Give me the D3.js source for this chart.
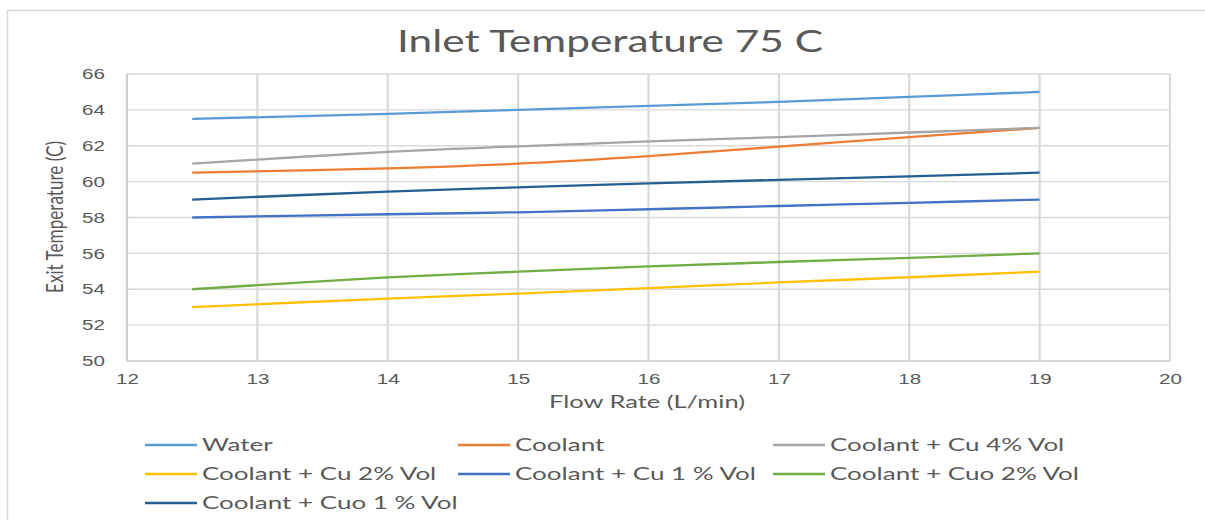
<!DOCTYPE html>
<meta charset="utf-8">
<style type="text/css">
body {
  margin: 0;
  background: #fff;
  font-family: Lato, "Open Sans", sans-serif;
}
.tick text {
  fill: #595959;
  font-size: 14.5px;
}
.grid line {
  stroke: #d9d9d9;
}
.legend text {
  fill: #595959;
  font-size: 17px;
}
</style>
<body>
</body>

<script src="https://cdn.jsdelivr.net/npm/d3@7"></script>
<script>
// flow rates (L/min) where the exit temperatures were read
var flowRates = [12.5, 14, 15, 16, 17, 18, 19];

var seriesNames = [
  "Water",
  "Coolant",
  "Coolant + Cu 4% Vol",
  "Coolant + Cu 2% Vol",
  "Coolant + Cu 1 % Vol",
  "Coolant + Cuo 2% Vol",
  "Coolant + Cuo 1 % Vol"
];
var seriesColors = ["#5b9bd5", "#ed7d31", "#a5a5a5", "#ffc000", "#4472c4", "#70ad47", "#255e91"];

var water    = [63.5, 63.78, 64.0, 64.22, 64.45, 64.72, 65.0];
var coolant  = [60.5, 60.74, 61.0, 61.42, 61.95, 62.48, 63.0];
var cu4      = [61.0, 61.66, 61.97, 62.24, 62.48, 62.74, 63.0];
var cu2      = [53.0, 53.48, 53.76, 54.06, 54.38, 54.67, 54.98];
var cu1      = [58.0, 58.18, 58.29, 58.46, 58.64, 58.82, 59.0];
var cuo2     = [54.0, 54.66, 54.98, 55.27, 55.52, 55.75, 56.0];
var cuo1     = [59.0, 59.44, 59.68, 59.9, 60.1, 60.29, 60.5];

var seriesValues = [water, coolant, cu4, cu2, cu1, cuo2, cuo1];

var xTicks = [12, 13, 14, 15, 16, 17, 18, 19, 20];
var yTicks = [50, 52, 54, 56, 58, 60, 62, 64, 66];

var width = 1205, height = 520;
var plot = { left: 127, right: 1170, top: 74, bottom: 361 };
var stretch = 1.42;   // the source picture is stretched sideways

var svg = d3.select("body")
  .append("svg")
    .attr("width", width)
    .attr("height", height);

// chart border
svg.append("rect")
  .attr("x", 7.5)
  .attr("y", 10.5)
  .attr("width", 1220)
  .attr("height", 530)
  .attr("fill", "none")
  .attr("stroke", "#d9d9d9")
  .attr("stroke-width", 1.5);

var xscale = d3.scaleLinear()
  .domain([12, 20])
  .range([plot.left, plot.right]);

var yscale = d3.scaleLinear()
  .domain([50, 66])
  .range([plot.bottom, plot.top]);

function widen(sel, s) {
  sel.each(function() {
    var w = this.getComputedTextLength();
    d3.select(this)
      .attr("textLength", w * s)
      .attr("lengthAdjust", "spacingAndGlyphs");
  });
}

// gridlines
svg.append("g")
  .attr("class", "grid")
  .selectAll("line.h")
  .data(yTicks)
  .enter().append("line")
    .attr("x1", plot.left)
    .attr("x2", plot.right)
    .attr("y1", function(d) { return yscale(d); })
    .attr("y2", function(d) { return yscale(d); })
    .attr("stroke-width", function(d) { return d == 50 ? 1.6 : 1.3; })
    .style("stroke", function(d) { return d == 50 ? "#c8c8c8" : null; });

svg.append("g")
  .attr("class", "grid")
  .selectAll("line.v")
  .data(xTicks)
  .enter().append("line")
    .attr("y1", plot.top)
    .attr("y2", plot.bottom)
    .attr("x1", function(d) { return xscale(d); })
    .attr("x2", function(d) { return xscale(d); })
    .attr("stroke-width", 2.2)
    .style("stroke", function(d) { return d == 12 ? "#cfcfcf" : null; });

// axes (labels only, lines come from the grid)
var yAxis = d3.axisLeft(yscale)
  .tickValues(yTicks)
  .tickSize(0)
  .tickPadding(22);

var xAxis = d3.axisBottom(xscale)
  .tickValues(xTicks)
  .tickSize(0)
  .tickPadding(13);

var gy = svg.append("g")
  .attr("transform", "translate(" + plot.left + ",0)")
  .call(yAxis);
gy.select(".domain").remove();
widen(gy.selectAll("text"), stretch);

var gx = svg.append("g")
  .attr("transform", "translate(0," + plot.bottom + ")")
  .call(xAxis);
gx.select(".domain").remove();
widen(gx.selectAll("text"), stretch);

// lines
var line = d3.line()
  .x(function(d, i) { return xscale(flowRates[i]); })
  .y(function(d) { return yscale(d); })
  .curve(d3.curveCatmullRom.alpha(0.5));

svg.append("g")
  .selectAll("path")
  .data(seriesValues)
  .enter().append("path")
    .attr("d", line)
    .attr("fill", "none")
    .attr("stroke", function(d, i) { return seriesColors[i]; })
    .attr("stroke-width", 2.3)
    .attr("stroke-linecap", "butt");

// titles
var title = svg.append("text")
  .attr("x", 610)
  .attr("y", 52)
  .attr("text-anchor", "middle")
  .style("font-size", "31px")
  .style("fill", "#595959")
  .text("Inlet Temperature 75 C");
title.attr("textLength", 426).attr("lengthAdjust", "spacingAndGlyphs");

svg.append("text")
  .attr("x", 647)
  .attr("y", 408)
  .attr("text-anchor", "middle")
  .style("font-size", "17px")
  .style("fill", "#595959")
  .attr("textLength", 196)
  .attr("lengthAdjust", "spacingAndGlyphs")
  .text("Flow Rate (L/min)");

svg.append("g")
  .attr("transform", "translate(63,217) scale(1.45,1) rotate(-90)")
  .append("text")
    .attr("text-anchor", "middle")
    .style("font-size", "16.5px")
    .style("fill", "#595959")
    .attr("textLength", 152)
    .attr("lengthAdjust", "spacingAndGlyphs")
    .text("Exit Temperature (C)");

// legend
var legendCols = [145, 458, 773];
var legendRows = [445, 474, 503];

var legend = svg.append("g")
  .attr("class", "legend")
  .selectAll("g")
  .data(seriesNames)
  .enter().append("g")
    .attr("transform", function(d, i) {
      return "translate(" + legendCols[i % 3] + "," + legendRows[Math.floor(i / 3)] + ")";
    });

legend.append("line")
  .attr("x1", 0)
  .attr("x2", 52)
  .attr("stroke", function(d, i) { return seriesColors[i]; })
  .attr("stroke-width", 2.3);

legend.append("text")
  .attr("x", 57)
  .attr("dy", "0.35em")
  .text(function(d) { return d; });

widen(legend.selectAll("text"), 1.53);
</script>
